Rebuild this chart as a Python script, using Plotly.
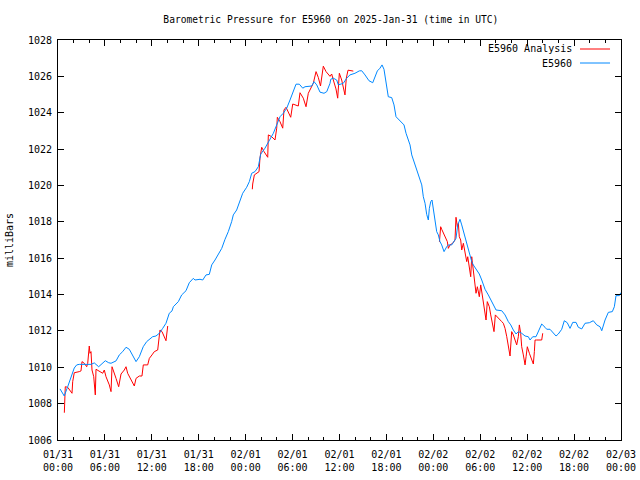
import pandas as pd
import plotly.graph_objects as go

BASE = pd.Timestamp("2025-01-31 00:00")

# Observed station pressure (E5960): hours since 01/31 00:00 UTC, millibars
obs_hours = [0.26, 0.80, 1.24, 1.66, 2.08, 2.39, 2.72, 4.22, 4.64, 5.20, 5.50, 6.05, 6.48, 6.78,
             7.42, 7.84, 8.27, 8.70, 9.12, 9.55, 9.98, 10.40, 10.90, 11.34, 11.77, 12.10, 12.53,
             12.96, 13.39, 13.81, 14.23, 14.58, 14.75, 15.39, 15.82, 16.37, 16.79, 17.30, 17.52,
             18.16, 18.51, 18.93, 19.35, 19.66, 20.08, 20.50, 20.94, 21.36, 21.78, 22.21, 22.42,
             22.85, 23.28, 23.62, 24.13, 24.47, 24.77, 25.19, 25.62, 25.92, 26.47, 26.90, 27.54,
             27.97, 28.39, 28.81, 29.25, 29.67, 30.09, 30.44, 30.86, 31.30, 31.59, 32.45, 32.74,
             33.09, 33.51, 34.02, 34.37, 34.79, 34.88, 35.21, 35.64, 35.85, 36.49, 36.92, 37.34,
             37.98, 38.53, 38.84, 39.26, 39.77, 40.25, 40.41, 40.84, 41.18, 41.44, 41.69, 41.95,
             42.24, 42.68, 42.97, 43.23, 43.65, 43.96, 44.25, 44.51, 44.80, 45.02, 45.24, 45.53,
             45.88, 46.21, 46.52, 46.72, 46.94, 47.15, 47.36, 47.49, 47.67, 47.83, 48.00, 48.22,
             48.43, 48.64, 48.85, 49.07, 49.37, 49.71, 49.92, 50.35, 50.65, 50.90, 51.12, 51.41,
             51.63, 51.92, 52.27, 52.60, 52.91, 53.11, 53.55, 53.88, 54.19, 54.61, 55.03, 55.34,
             55.67, 56.02, 56.75, 57.17, 57.59, 57.90, 58.23, 58.58, 58.87, 59.30, 59.73, 60.15,
             60.37, 60.71, 61.13, 61.43, 61.86, 62.28, 62.50, 62.92, 63.35, 63.69, 63.98, 64.42,
             64.75, 65.13, 65.48, 65.83, 66.25, 66.54, 66.98, 67.40, 67.95, 68.46, 68.90, 69.32,
             69.54, 69.96, 70.38, 70.89, 71.15, 71.36, 71.79, 71.97]
obs_mb = [1008.81, 1008.42, 1008.93, 1009.41, 1009.96, 1010.13, 1010.16, 1010.16, 1010.24, 1010.03,
          1010.13, 1010.36, 1010.25, 1010.22, 1010.35, 1010.68, 1010.86, 1011.10, 1010.99, 1010.68,
          1010.31, 1010.58, 1011.13, 1011.41, 1011.59, 1011.68, 1011.72, 1011.87, 1012.14, 1012.42,
          1012.97, 1013.10, 1013.33, 1013.61, 1013.98, 1014.21, 1014.65, 1014.89, 1014.80, 1014.84,
          1014.80, 1015.08, 1015.11, 1015.63, 1015.90, 1016.18, 1016.54, 1017.04, 1017.46, 1018.01,
          1018.38, 1018.65, 1019.11, 1019.57, 1019.90, 1020.21, 1020.67, 1020.76, 1021.03, 1021.72,
          1022.05, 1022.41, 1022.87, 1023.33, 1023.78, 1023.97, 1024.25, 1024.70, 1025.16, 1025.57,
          1025.57, 1025.35, 1025.43, 1025.47, 1025.71, 1025.53, 1025.13, 1025.07, 1025.16, 1025.62,
          1025.84, 1025.90, 1025.80, 1025.53, 1025.62, 1025.90, 1026.08, 1026.17, 1026.30, 1026.31,
          1026.08, 1025.76, 1025.65, 1025.80, 1026.30, 1026.45, 1026.63, 1026.39, 1025.71, 1024.88,
          1024.83, 1024.43, 1023.78, 1023.60, 1023.42, 1023.33, 1022.87, 1022.45, 1022.23, 1021.68,
          1021.31, 1020.94, 1020.48, 1020.03, 1019.38, 1019.02, 1018.41, 1018.10, 1018.74, 1019.11,
          1019.20, 1018.65, 1017.92, 1017.46, 1017.28, 1016.91, 1016.73, 1016.36, 1016.63, 1016.73,
          1016.73, 1016.96, 1017.09, 1017.83, 1018.14, 1017.83, 1017.37, 1016.82, 1016.27, 1015.81,
          1015.63, 1015.31, 1015.13, 1014.80, 1014.29, 1013.98, 1013.74, 1013.43, 1013.15, 1013.11,
          1012.88, 1012.51, 1012.33, 1012.05, 1011.83, 1011.96, 1011.87, 1011.72, 1011.68, 1011.50,
          1011.68, 1011.68, 1011.96, 1012.38, 1012.20, 1012.09, 1012.09, 1011.87, 1011.72, 1011.83,
          1012.09, 1012.56, 1012.45, 1012.14, 1012.47, 1012.47, 1012.20, 1012.11, 1012.42, 1012.45,
          1012.56, 1012.33, 1012.23, 1012.01, 1012.60, 1013.02, 1013.06, 1013.33, 1013.94, 1013.94,
          1014.10]

# Analysis pressure (E5960 Analysis): three segments separated by gaps (None)
ana_hours = [0.81, 0.93, 1.24, 1.45, 1.79, 1.88, 2.08, 2.72, 2.94, 3.07, 3.36, 3.67, 3.80, 4.00,
             4.09, 4.22, 4.35, 4.57, 4.64, 4.77, 4.86, 5.28, 5.72, 5.92, 6.14, 6.56, 6.78, 6.91,
             7.07, 7.42, 7.76, 8.06, 8.48, 8.70, 8.91, 9.34, 9.76, 9.98, 10.40, 10.74, 10.91, 11.47,
             11.68, 12.02, 12.32, 12.75, 12.88, 13.04, 13.30, 13.47, 13.81, 14.03,
             19.0,
             24.85, 24.90, 25.11, 25.41, 25.71, 25.83, 26.05, 26.35, 26.69, 26.82, 26.90, 27.33,
             27.75, 27.97, 28.05, 28.39, 28.74, 28.90, 29.16, 29.45, 29.76, 30.02, 30.53, 30.73,
             30.95, 31.37, 31.72, 32.01, 32.65, 33.00, 33.29, 33.57, 33.93, 34.28, 34.79, 35.00,
             35.21, 35.55, 35.77, 35.98, 36.28, 36.51, 36.70, 36.87, 37.09, 37.77,
             43.0,
             48.78, 48.94, 49.07, 49.37, 49.62, 49.79, 49.92, 50.04, 50.13, 50.48, 50.77, 50.90,
             51.07, 51.20, 51.32, 51.50, 51.63, 51.84, 52.05, 52.27, 52.40, 52.60, 52.78, 52.91,
             53.11, 53.33, 53.46, 53.63, 53.88, 54.06, 54.27, 54.39, 54.61, 54.74, 54.90, 55.16,
             55.34, 55.59, 55.76, 55.93, 56.18, 56.53, 56.75, 56.95, 57.17, 57.39, 57.59, 57.81,
             58.02, 58.23, 58.45, 58.66, 58.87, 59.00, 59.17, 59.30, 59.51, 59.73, 59.86, 60.02,
             60.28, 60.58, 60.79, 60.92, 61.01, 61.22, 61.86, 61.99]
ana_mb = [1007.50, 1008.93, 1008.90, 1008.75, 1008.57, 1009.21, 1009.70, 1009.76, 1009.80, 1010.31,
          1010.22, 1010.03, 1010.22, 1011.17, 1010.77, 1010.86, 1009.85, 1009.48, 1008.93, 1008.48,
          1009.89, 1009.76, 1009.67, 1009.85, 1009.48, 1009.03, 1008.66, 1010.03, 1009.85, 1009.39,
          1008.93, 1009.63, 1009.85, 1010.03, 1009.67, 1009.30, 1008.97, 1009.39, 1009.52, 1009.52,
          1010.13, 1010.13, 1010.49, 1010.68, 1010.86, 1010.95, 1011.41, 1012.05, 1011.96, 1011.78,
          1011.46, 1012.27,
          None,
          1019.79, 1020.08, 1020.58, 1020.67, 1020.76, 1021.50, 1022.10, 1021.86, 1021.62, 1021.55,
          1022.78, 1022.68, 1022.50, 1023.15, 1023.75, 1023.51, 1023.15, 1024.15, 1024.30, 1024.00,
          1023.75, 1024.48, 1024.37, 1024.37, 1025.10, 1024.80, 1024.33, 1025.07, 1025.62, 1026.26,
          1025.94, 1025.47, 1026.56, 1026.26, 1026.00, 1026.13, 1025.80, 1025.31, 1024.80, 1026.17,
          1025.80, 1025.42, 1024.98, 1025.90, 1026.34, 1026.29,
          None,
          1016.90, 1017.73, 1017.59, 1017.28, 1017.09, 1016.91, 1016.54, 1016.63, 1016.73, 1016.82,
          1017.00, 1018.25, 1017.73, 1017.92, 1017.18, 1017.00, 1016.45, 1016.82, 1016.27, 1015.81,
          1016.08, 1015.44, 1014.98, 1016.08, 1015.35, 1014.53, 1014.07, 1014.43, 1013.88, 1014.53,
          1013.88, 1013.43, 1012.97, 1012.60, 1013.61, 1013.33, 1012.88, 1012.42, 1011.96, 1012.88,
          1012.75, 1012.60, 1012.51, 1012.42, 1012.14, 1011.68, 1011.13, 1010.62, 1011.96, 1011.78,
          1011.50, 1011.23, 1011.68, 1012.33, 1011.87, 1011.13, 1010.68, 1010.13, 1010.58, 1011.13,
          1010.77, 1010.40, 1010.18, 1010.86, 1011.50, 1011.50, 1011.50, 1011.87]

series_names = ["E5960 Analysis", "E5960"]
series_colors = ["#ff0000", "#0088ff"]

tick_hours = [0, 6, 12, 18, 24, 30, 36, 42, 48, 54, 60, 66, 72]
tick_labels = ["01/31<br>00:00", "01/31<br>06:00", "01/31<br>12:00", "01/31<br>18:00",
               "02/01<br>00:00", "02/01<br>06:00", "02/01<br>12:00", "02/01<br>18:00",
               "02/02<br>00:00", "02/02<br>06:00", "02/02<br>12:00", "02/02<br>18:00",
               "02/03<br>00:00"]
minor_hours = [h for h in range(0, 73, 2) if h % 6 != 0]


def to_time(hours):
    return [BASE + pd.Timedelta(hours=h) for h in hours]


FONT = "DejaVu Sans Mono"

fig = go.Figure()
fig.add_trace(go.Scatter(x=to_time(ana_hours), y=ana_mb, mode="lines", name=series_names[0],
                         line=dict(color=series_colors[0], width=1), connectgaps=False))
fig.add_trace(go.Scatter(x=to_time(obs_hours), y=obs_mb, mode="lines", name=series_names[1],
                         line=dict(color=series_colors[1], width=1)))

# gnuplot-style key: text right-aligned, line sample to its right
annotations = []
shapes = []
for i, (name, color) in enumerate(zip(series_names, series_colors)):
    ky = 0.9775 - i * 0.035
    annotations.append(dict(xref="paper", yref="paper", x=0.9165, y=ky, text=name,
                            showarrow=False, xanchor="right", yanchor="middle",
                            font=dict(family=FONT, size=10, color="black")))
    shapes.append(dict(type="line", xref="paper", yref="paper", x0=0.9272, x1=0.9805,
                       y0=ky, y1=ky, line=dict(color=color, width=1)))

fig.update_layout(
    width=640, height=480,
    margin=dict(l=58, r=19, t=40, b=40),
    paper_bgcolor="white", plot_bgcolor="white",
    font=dict(family=FONT, size=10, color="black"),
    title=dict(text="Barometric Pressure for E5960 on 2025-Jan-31 (time in UTC)",
               x=0.517, xanchor="center", y=0.96, yanchor="middle",
               font=dict(family=FONT, size=9.6, color="black")),
    showlegend=False,
    annotations=annotations,
    shapes=shapes,
    xaxis=dict(type="date", range=[BASE, BASE + pd.Timedelta(hours=72)], automargin=False,
               tickmode="array", tickvals=to_time(tick_hours), ticktext=tick_labels,
               ticks="inside", ticklen=6, tickcolor="black", showline=True, linecolor="black",
               linewidth=1, mirror="ticks", showgrid=False, zeroline=False,
               ticklabelstandoff=5,
               tickfont=dict(family=FONT, size=10, color="black"),
               minor=dict(tickmode="array", tickvals=to_time(minor_hours), ticks="inside",
                          ticklen=3, tickcolor="black", showgrid=False)),
    yaxis=dict(range=[1006, 1028], tick0=1006, dtick=2, ticks="inside", ticklen=6,
               automargin=False, ticklabelstandoff=3,
               tickcolor="black", showline=True, linecolor="black", linewidth=1,
               mirror="ticks", showgrid=False, zeroline=False,
               tickfont=dict(family=FONT, size=10, color="black"),
               title=dict(text="milliBars", standoff=12,
                          font=dict(family=FONT, size=10, color="black"))),
)

fig.write_html("out.html", config={"displayModeBar": False},
               post_script="document.body.style.margin='0';document.body.style.overflow='hidden';")
